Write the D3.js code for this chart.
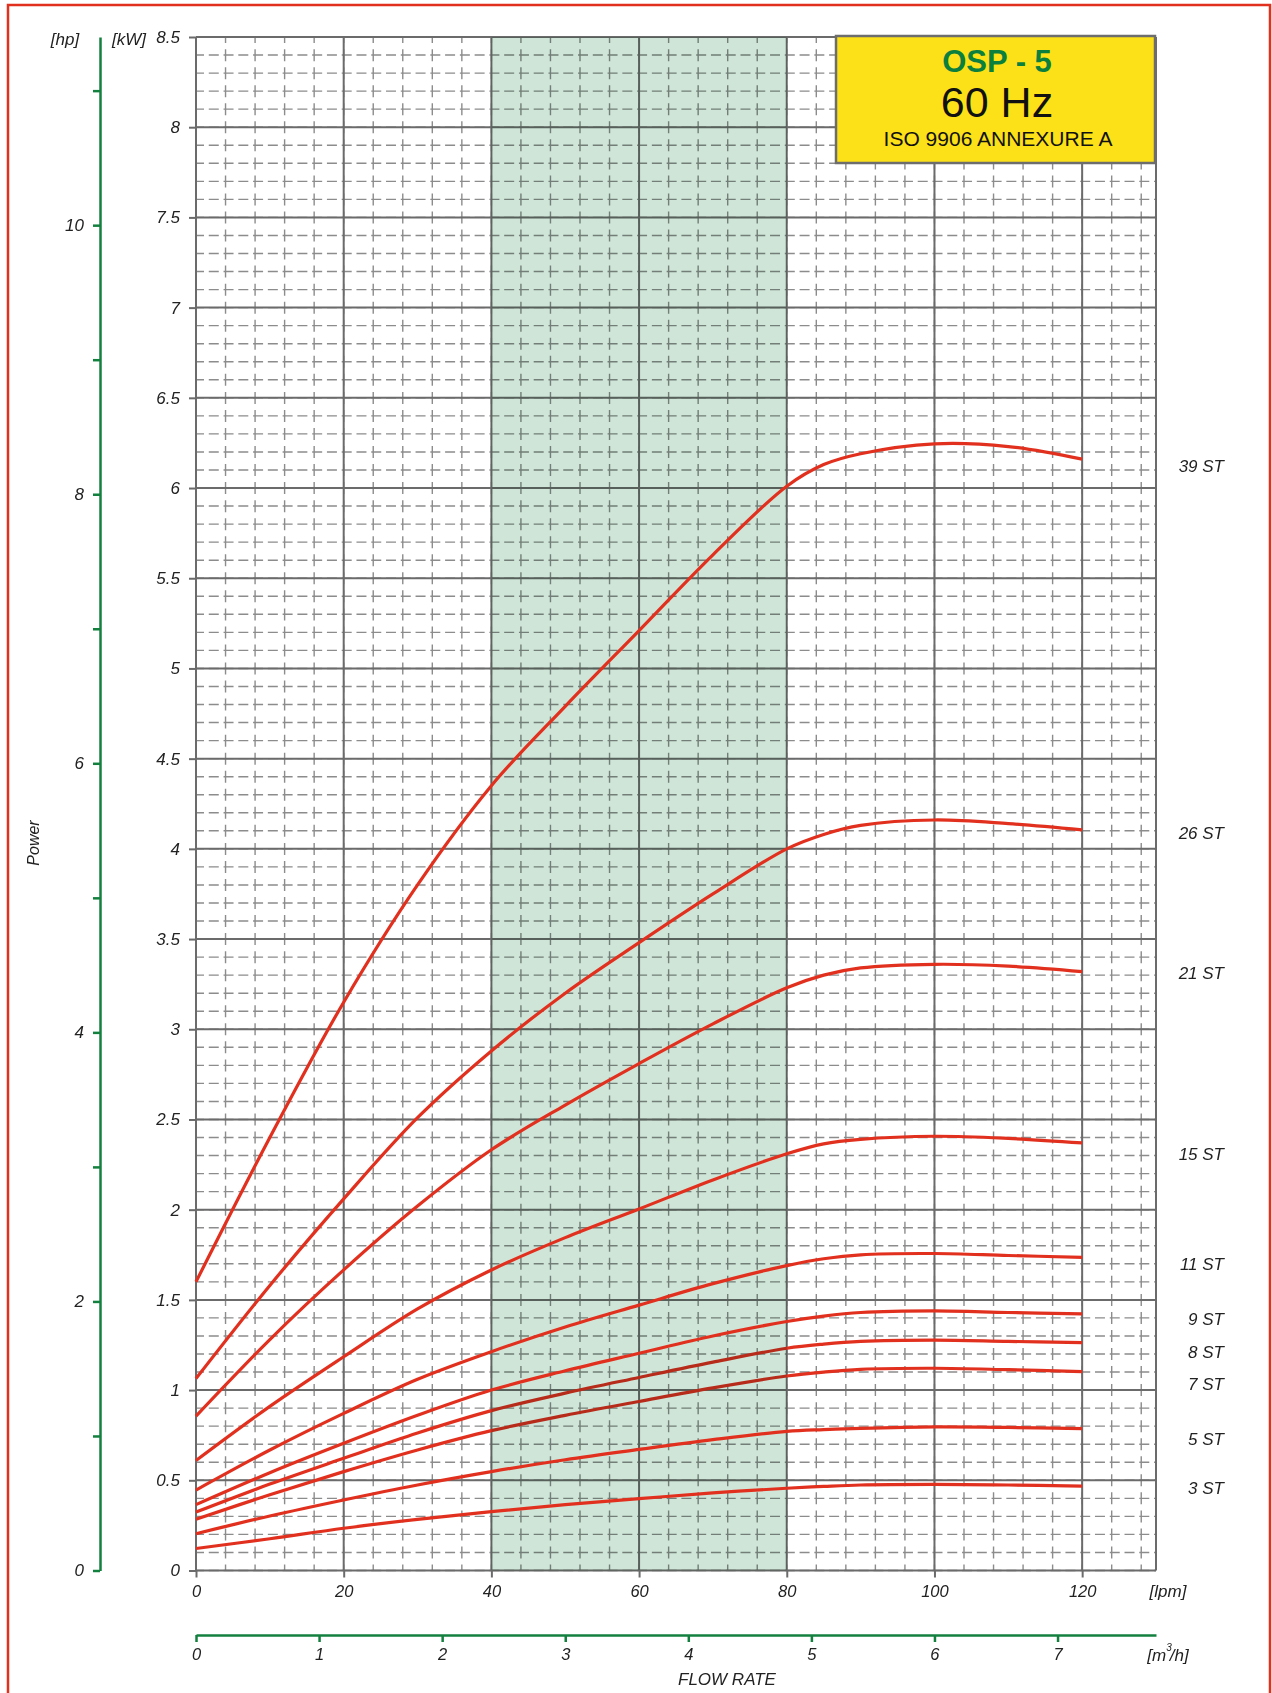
<!DOCTYPE html>
<html>
<head>
<meta charset="utf-8">
<script src="https://cdn.jsdelivr.net/npm/d3@7"></script>
<style>
body { margin: 0; background: #fff; }
svg text { font-family: "Liberation Sans", Arial, sans-serif; font-style: italic; fill: #222; }
</style>
</head>
<body>
<svg id="chart" width="1272" height="1693"></svg>
<script>
// flow rate samples [lpm] and power [kW] per pump version
const flow = [0, 10, 20, 30, 40, 50, 60, 70, 80, 85, 90, 100, 110, 120];
const st39 = [1.60, 2.40, 3.15, 3.80, 4.35, 4.79, 5.21, 5.63, 6.01, 6.13, 6.19, 6.245, 6.23, 6.16];
const st26 = [1.064, 1.58, 2.06, 2.51, 2.88, 3.20, 3.48, 3.75, 4.00, 4.08, 4.13, 4.16, 4.14, 4.105];
const st21 = [0.856, 1.28, 1.666, 2.02, 2.332, 2.58, 2.81, 3.03, 3.23, 3.30, 3.34, 3.36, 3.35, 3.32];
const st15 = [0.61, 0.91, 1.185, 1.45, 1.666, 1.845, 2.004, 2.165, 2.31, 2.365, 2.39, 2.407, 2.395, 2.37];
const st11 = [0.446, 0.668, 0.871, 1.06, 1.213, 1.35, 1.471, 1.59, 1.69, 1.728, 1.75, 1.757, 1.746, 1.736];
const st9 = [0.365, 0.542, 0.705, 0.86, 1.0, 1.107, 1.204, 1.30, 1.38, 1.41, 1.43, 1.439, 1.43, 1.422];
const st8 = [0.324, 0.479, 0.622, 0.762, 0.886, 0.983, 1.07, 1.155, 1.232, 1.255, 1.27, 1.277, 1.27, 1.263];
const st7 = [0.284, 0.42, 0.548, 0.668, 0.775, 0.86, 0.937, 1.012, 1.078, 1.10, 1.115, 1.121, 1.113, 1.102];
const st5 = [0.204, 0.302, 0.391, 0.474, 0.548, 0.614, 0.671, 0.725, 0.771, 0.781, 0.788, 0.796, 0.793, 0.786];
const st3 = [0.122, 0.176, 0.234, 0.283, 0.326, 0.365, 0.398, 0.43, 0.456, 0.466, 0.474, 0.477, 0.474, 0.468];

const names = ["39 ST", "26 ST", "21 ST", "15 ST", "11 ST", "9 ST", "8 ST", "7 ST", "5 ST", "3 ST"];
const series = [st39, st26, st21, st15, st11, st9, st8, st7, st5, st3];
// where each name sits on the right, in kW
const labelAt = [6.09, 4.055, 3.28, 2.275, 1.666, 1.361, 1.178, 1.0, 0.696, 0.424];

const kwTicks = [0, 0.5, 1, 1.5, 2, 2.5, 3, 3.5, 4, 4.5, 5, 5.5, 6, 6.5, 7, 7.5, 8, 8.5];
const lpmTicks = [0, 20, 40, 60, 80, 100, 120];
const hpTicks = [0, 1, 2, 3, 4, 5, 6, 7, 8, 9, 10, 11];
const hpLabels = [0, 2, 4, 6, 8, 10];
const m3hTicks = [0, 1, 2, 3, 4, 5, 6, 7];
const band = [40, 80];

const KW_PER_HP = 0.7457;
const plotLeft = 196, plotRight = 1156, plotTop = 37, plotBottom = 1570.5;

const x = d3.scaleLinear().domain([0, 130]).range([plotLeft, plotRight]);
const y = d3.scaleLinear().domain([0, 8.5]).range([plotBottom, plotTop]);
const yHp = d3.scaleLinear().domain([0, 8.5 / KW_PER_HP]).range([plotBottom, plotTop]);
const xM = d3.scaleLinear().domain([0, 130 * 0.06]).range([plotLeft, plotRight]);

const svg = d3.select("#chart");
const red = "#e2301f", green = "#13803f", gridDark = "#6b6b6b", gridLight = "#8c8c8c";

svg.append("rect").attr("width", 1272).attr("height", 1693).attr("fill", "#fff");

// outer red frame
svg.append("rect")
    .attr("x", 8).attr("y", 5).attr("width", 1262).attr("height", 1720)
    .attr("fill", "none").attr("stroke", red).attr("stroke-width", 2.5);

const grid = svg.append("g");

// minor dashed grid
grid.selectAll("line.vminor")
    .data(d3.range(0, 130, 4))
    .enter().append("line")
    .attr("x1", d => x(d)).attr("x2", d => x(d))
    .attr("y1", plotBottom).attr("y2", plotTop)
    .attr("stroke", gridLight).attr("stroke-width", 1.4)
    .attr("stroke-dasharray", "12 6.04").attr("stroke-dashoffset", 6);

grid.selectAll("line.hminor")
    .data(d3.range(0, 86).map(i => i / 10))
    .enter().append("line")
    .attr("x1", plotLeft).attr("x2", plotRight)
    .attr("y1", d => y(d)).attr("y2", d => y(d))
    .attr("stroke", gridLight).attr("stroke-width", 1.4)
    .attr("stroke-dasharray", "10 4.77").attr("stroke-dashoffset", 2);

// major grid
grid.selectAll("line.vmajor")
    .data(lpmTicks.concat([130]))
    .enter().append("line")
    .attr("x1", d => x(d)).attr("x2", d => x(d))
    .attr("y1", plotBottom).attr("y2", plotTop)
    .attr("stroke", gridDark).attr("stroke-width", 2);

grid.selectAll("line.hmajor")
    .data(kwTicks)
    .enter().append("line")
    .attr("x1", plotLeft).attr("x2", plotRight)
    .attr("y1", d => y(d)).attr("y2", d => y(d))
    .attr("stroke", gridDark).attr("stroke-width", 2);

const line = d3.line()
    .x((d, i) => x(flow[i]))
    .y(d => y(d))
    .curve(d3.curveCatmullRom.alpha(0.5));

const curves = series.map((s, i) => ({ name: names[i], values: s }));
const under = ["8 ST", "7 ST"];

// these two pass under the green band in the original
svg.append("g").selectAll("path")
    .data(curves.filter(c => under.includes(c.name)))
    .enter().append("path")
    .attr("d", d => line(d.values))
    .attr("fill", "none").attr("stroke", red).attr("stroke-width", 3.2);

// best efficiency band
svg.append("rect")
    .attr("x", x(band[0])).attr("width", x(band[1]) - x(band[0]))
    .attr("y", plotTop).attr("height", plotBottom - plotTop)
    .attr("fill", "#cfe5d8")
    .style("mix-blend-mode", "multiply");

svg.append("g").selectAll("path")
    .data(curves.filter(c => !under.includes(c.name)))
    .enter().append("path")
    .attr("d", d => line(d.values))
    .attr("fill", "none").attr("stroke", red).attr("stroke-width", 3.2);

// curve names
svg.append("g").selectAll("text")
    .data(names)
    .enter().append("text")
    .attr("x", 1224).attr("y", (d, i) => y(labelAt[i]))
    .attr("text-anchor", "end").attr("font-size", 17)
    .text(d => d);

// kW axis
const kwAxis = svg.append("g")
    .attr("transform", `translate(${plotLeft},0)`)
    .call(d3.axisLeft(y).tickValues(kwTicks).tickSize(7).tickPadding(9).tickFormat(d => String(d)));
kwAxis.select(".domain").remove();
kwAxis.selectAll(".tick line").attr("stroke", gridDark).attr("stroke-width", 2);
kwAxis.selectAll("text").attr("font-size", 17).attr("font-family", null).style("fill", "#222");

// hp axis
const hpAxis = svg.append("g")
    .attr("transform", "translate(100,0)")
    .call(d3.axisLeft(yHp).tickValues(hpTicks).tickSize(7).tickSizeOuter(0).tickPadding(9)
        .tickFormat(d => hpLabels.includes(d) ? String(d) : ""));
hpAxis.select(".domain").attr("stroke", green).attr("stroke-width", 2.5);
hpAxis.selectAll(".tick line").attr("stroke", green).attr("stroke-width", 2.5);
hpAxis.selectAll("text").attr("font-size", 17).attr("font-family", null).style("fill", "#222");

// lpm axis
const lpmAxis = svg.append("g")
    .attr("transform", `translate(0,${plotBottom})`)
    .call(d3.axisBottom(x).tickValues(lpmTicks).tickSize(7).tickPadding(8).tickFormat(d => String(d)));
lpmAxis.select(".domain").remove();
lpmAxis.selectAll(".tick line").attr("stroke", gridDark).attr("stroke-width", 2);
lpmAxis.selectAll("text").attr("font-size", 16.5).attr("font-family", null).style("fill", "#222");

// m3/h axis
const mAxis = svg.append("g")
    .attr("transform", "translate(0,1635)")
    .call(d3.axisBottom(xM).tickValues(m3hTicks).tickSize(7).tickSizeOuter(0).tickPadding(6).tickFormat(d => String(d)));
mAxis.select(".domain").attr("stroke", green).attr("stroke-width", 2.5);
mAxis.selectAll(".tick line").attr("stroke", green).attr("stroke-width", 2.5);
mAxis.selectAll("text").attr("font-size", 16.5).attr("font-family", null).style("fill", "#222");

// unit labels
svg.append("text").attr("x", 65).attr("y", 45).attr("text-anchor", "middle").attr("font-size", 17).text("[hp]");
svg.append("text").attr("x", 129).attr("y", 45).attr("text-anchor", "middle").attr("font-size", 17).text("[kW]");
svg.append("text").attr("x", 1168).attr("y", 1597).attr("text-anchor", "middle").attr("font-size", 17).text("[lpm]");
const mUnit = svg.append("text").attr("x", 1168).attr("y", 1661).attr("text-anchor", "middle").attr("font-size", 17);
mUnit.append("tspan").text("[m");
mUnit.append("tspan").attr("font-size", 10).attr("dy", -10).text("3");
mUnit.append("tspan").attr("dy", 10).attr("dx", -2).text("/h]");
svg.append("text").attr("x", 727).attr("y", 1685).attr("text-anchor", "middle").attr("font-size", 17).text("FLOW RATE");
svg.append("text").attr("transform", "translate(39,843) rotate(-90)")
    .attr("text-anchor", "middle").attr("font-size", 16).text("Power");

// title box
const box = svg.append("g");
box.append("rect")
    .attr("x", 836).attr("y", 36).attr("width", 319).attr("height", 127)
    .attr("fill", "#fde118").attr("stroke", "#6d6d6d").attr("stroke-width", 2.5);
box.append("text").attr("x", 997).attr("y", 72).attr("text-anchor", "middle")
    .attr("font-size", 31).attr("font-weight", "bold")
    .style("font-style", "normal").style("fill", "#0b7f3d").text("OSP - 5");
box.append("text").attr("x", 997).attr("y", 117).attr("text-anchor", "middle")
    .attr("font-size", 43).style("font-style", "normal").style("fill", "#111").text("60 Hz");
box.append("text").attr("x", 998).attr("y", 146).attr("text-anchor", "middle")
    .attr("font-size", 21).style("font-style", "normal").style("fill", "#111").text("ISO 9906 ANNEXURE A");
</script>
</body>
</html>
